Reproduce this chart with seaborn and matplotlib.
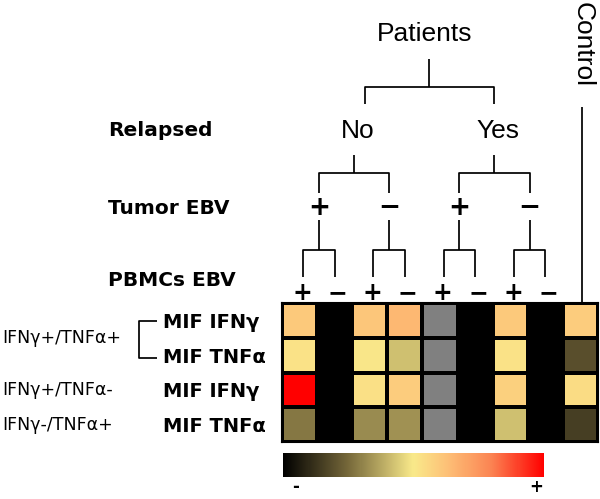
import numpy as np
import matplotlib
matplotlib.use('Agg')
import matplotlib.pyplot as plt
from matplotlib.colors import LinearSegmentedColormap, ListedColormap
import seaborn as sns

# Data
row_labels = ["MIF IFNγ", "MIF TNFα", "MIF IFNγ", "MIF TNFα"]
row_groups = [("IFNγ+/TNFα+", 0, 2), ("IFNγ+/TNFα-", 2, 3), ("IFNγ-/TNFα+", 3, 4)]
pbmc_signs = ["+", "−", "+", "−", "+", "−", "+", "−"]
tumor_signs = ["+", "−", "+", "−"]
relapsed = ["No", "Yes"]
nan = np.nan
# relative MIF level, 0 (-) to 1 (+); nan = no samples
values = np.array([
    [0.60, nan, 0.61, 0.65, nan, nan, 0.60, nan, 0.59],
    [0.52, nan, 0.51, 0.42, nan, nan, 0.52, nan, 0.19],
    [1.00, nan, 0.53, 0.59, nan, nan, 0.58, nan, 0.54],
    [0.28, nan, 0.32, 0.33, nan, nan, 0.42, nan, 0.15],
])
not_determined = [4]

cmap = LinearSegmentedColormap.from_list("mif", [
    (0.0, "#000000"), (0.25, "#76683a"), (0.5, "#f9e98a"),
    (0.63, "#fdc077"), (0.8, "#fb8352"), (1.0, "#ff0000")])

sns.set_style("white")
plt.rcParams['font.family'] = ['DejaVu Sans']
plt.rcParams['text.color'] = 'black'
plt.rcParams['xtick.color'] = 'black'
plt.rcParams['ytick.color'] = 'black'

fig = plt.figure(figsize=(6, 4.99), dpi=100)
ax = fig.add_axes([282 / 600, 1 - 442 / 499, 316 / 600, 139 / 499])
cax = fig.add_axes([283 / 600, 1 - 477 / 499, 261 / 600, 24 / 499])
ax.set_facecolor("black")

sns.heatmap(values, ax=ax, cmap=cmap, vmin=0, vmax=1, linewidths=1.5,
            linecolor="black", cbar_ax=cax,
            cbar_kws={"orientation": "horizontal"},
            xticklabels=False, yticklabels=False)

grey = np.full(values.shape, np.nan)
grey[:, not_determined] = 1
sns.heatmap(grey, ax=ax, cmap=ListedColormap(["#808080"]), cbar=False,
            linewidths=1.5, linecolor="black",
            xticklabels=False, yticklabels=False)

for s in ax.spines.values():
    s.set_visible(True)
    s.set_linewidth(1.5)
    s.set_color("black")

ax.set_yticks(np.arange(len(row_labels)) + 0.5)
ax.set_yticklabels(row_labels, ha="left", fontweight="bold", fontsize=14)
ax.tick_params(axis="y", length=0, pad=86)

# colorbar
cbar = ax.collections[0].colorbar
cbar.outline.set_visible(False)
cbar.set_ticks([0.05, 0.97])
cbar.set_ticklabels(["-", "+"], fontweight="bold", fontsize=12)
cax.tick_params(axis="x", length=0, pad=1)

# row group labels
for label, r0, r1 in row_groups:
    ax.text(-7.98, (r0 + r1) / 2, label, ha="left", va="center",
            fontsize=12.5, clip_on=False)
line_kw = dict(color="black", lw=1.25, clip_on=False, solid_capstyle="butt")
ax.plot([-3.56, -4.07, -4.07, -3.56], [0.52, 0.52, 1.58, 1.58], **line_kw)


def bracket(xl, xr, y_leg, y_bar, y_top):
    ax.plot([xl, xl, xr, xr], [y_leg, y_bar, y_bar, y_leg], **line_kw)
    xm = (xl + xr) / 2
    ax.plot([xm, xm], [y_bar, y_top], **line_kw)
    return xm


big = dict(fontfamily="Liberation Sans", fontsize=19, ha="center", va="center")
sign = dict(fontweight="heavy", ha="center", va="center")

# PBMCs level
pbmc_x = np.arange(len(pbmc_signs)) + 0.5
for x, s in zip(pbmc_x, pbmc_signs):
    ax.text(x + 0.08, -0.29, s, fontsize=17, clip_on=False, **sign)
tumor_x = [bracket(pbmc_x[2 * i] + 0.1, pbmc_x[2 * i + 1], -0.75, -1.52, -2.39)
           for i in range(len(tumor_signs))]
for x, s in zip(tumor_x, tumor_signs):
    ax.text(x, -2.73, s, fontsize=19, clip_on=False, **sign)

# Relapsed level
rel_x = [bracket(tumor_x[2 * i], tumor_x[2 * i + 1], -3.17, -3.74, -4.26)
         for i in range(len(relapsed))]
for x, s in zip(rel_x, relapsed):
    ax.text(x + 0.1, -4.95, s, clip_on=False, **big)

# Patients
px = bracket(rel_x[0] + 0.3, rel_x[1], -5.73, -6.22, -7.02)
ax.text(px - 0.15, -7.74, "Patients", clip_on=False, **big)

# Control
ax.plot([8.55, 8.55], [0, -5.64], **line_kw)
ax.text(8.55, -7.45, "Control", rotation=270, clip_on=False, **big)

# level names
for y, label in [(-4.95, "Relapsed"), (-2.73, "Tumor EBV"), (-0.66, "PBMCs EBV")]:
    ax.text(-4.96, y, label, ha="left", va="center", fontweight="bold",
            fontsize=14.5, clip_on=False)

fig.savefig("out.png", dpi=100, facecolor="white")
